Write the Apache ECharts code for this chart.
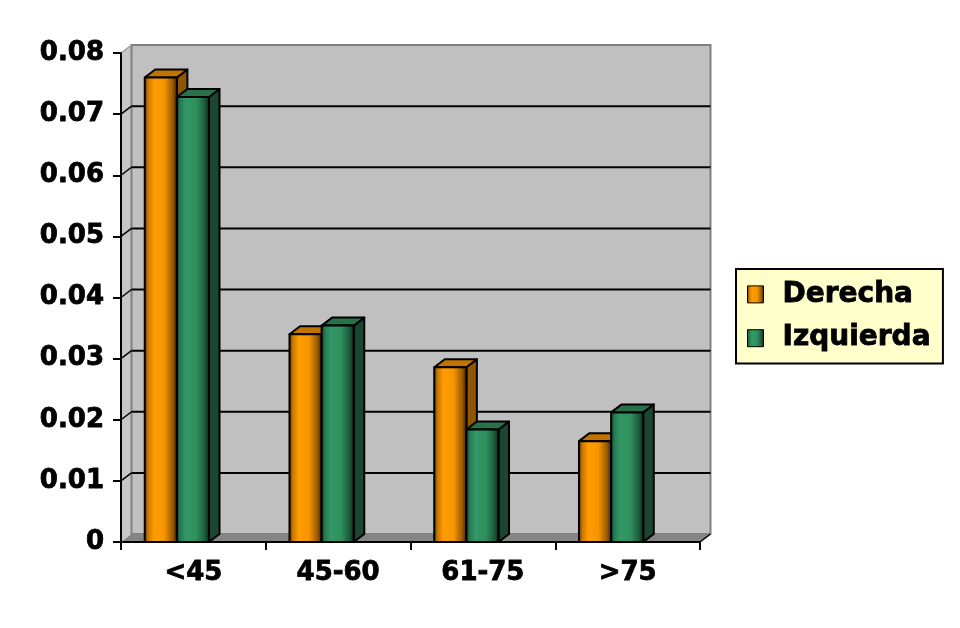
<!DOCTYPE html>
<html>
<head>
<meta charset="utf-8">
<script src="https://cdn.jsdelivr.net/npm/echarts@6/dist/echarts.min.js"></script>
<style>
  html, body { margin: 0; padding: 0; background: #ffffff; }
  #chart { width: 960px; height: 628px; }
</style>
</head>
<body>
<div id="chart"></div>
<script>
// ---- data ----
var categories = ['<45', '45-60', '61-75', '>75'];
var seriesNames = ['Derecha', 'Izquierda'];
var derecha = [0.076, 0.034, 0.0286, 0.0165];
var izquierda = [0.0728, 0.0354, 0.0184, 0.0212];
var yTicks = [0, 0.01, 0.02, 0.03, 0.04, 0.05, 0.06, 0.07, 0.08];
var yLabels = ['0', '0.01', '0.02', '0.03', '0.04', '0.05', '0.06', '0.07', '0.08'];

// ---- styling ----
var DX = 10.5, DY = -8;          // 3D depth offset
var BAR_FRAC = 0.222;            // bar front width as fraction of band
var SHIFT_FRAC = 0.114;          // pair center shift left of category center
var FONT = 'DejaVu Sans';

var G = echarts.graphic;
var pal = [
  {
    front: new G.LinearGradient(0, 0, 1, 0, [
      { offset: 0, color: '#3d2000' }, { offset: 0.12, color: '#c87500' },
      { offset: 0.3, color: '#ff9c00' }, { offset: 0.6, color: '#f59500' },
      { offset: 0.85, color: '#9a5a00' }, { offset: 1, color: '#301900' }]),
    top: '#c27300', side: '#8f5500'
  },
  {
    front: new G.LinearGradient(0, 0, 1, 0, [
      { offset: 0, color: '#0c2618' }, { offset: 0.12, color: '#267a50' },
      { offset: 0.3, color: '#339966' }, { offset: 0.6, color: '#2f8f5f' },
      { offset: 0.85, color: '#1b5a3b' }, { offset: 1, color: '#081a10' }]),
    top: '#2a7049', side: '#1b4631'
  }
];

function makeBarRender(si) {
  var p = pal[si];
  return function (params, api) {
    var i = api.value(0), v = api.value(1);
    var band = api.size([1, 0])[0];
    var base = api.coord([i, 0]);
    var top = api.coord([i, v]);
    var w = band * BAR_FRAC;
    var pc = base[0] - band * SHIFT_FRAC;
    var x0 = pc - w + si * w, x1 = x0 + w;
    var yb = base[1], yt = top[1];
    var st = { stroke: '#000', lineWidth: 2, lineJoin: 'round' };
    return {
      type: 'group',
      children: [
        { type: 'polygon', shape: { points: [[x1, yt], [x1 + DX, yt + DY], [x1 + DX, yb + DY], [x1, yb]] },
          style: Object.assign({ fill: p.side }, st) },
        { type: 'polygon', shape: { points: [[x0, yt], [x0 + DX, yt + DY], [x1 + DX, yt + DY], [x1, yt]] },
          style: Object.assign({ fill: p.top }, st) },
        { type: 'rect', shape: { x: x0, y: yt, width: w, height: yb - yt },
          style: Object.assign({ fill: p.front }, st) }
      ]
    };
  };
}

function frameRender(params, api) {
  var cs = params.coordSys;
  var x = cs.x, y = cs.y, w = cs.width, h = cs.height;
  var ch = [];
  ch.push({ type: 'polygon', shape: { points: [[x, y + h], [x, y], [x + DX, y + DY], [x + DX, y + h + DY]] },
    style: { fill: '#c6c6c6', stroke: null } });
  ch.push({ type: 'rect', shape: { x: x + DX, y: y + DY, width: w, height: h },
    style: { fill: '#c0c0c0', stroke: '#808080', lineWidth: 2 } });
  ch.push({ type: 'line', shape: { x1: x, y1: y, x2: x + DX, y2: y + DY },
    style: { stroke: '#a0a0a0', lineWidth: 1.5 } });
  for (var k = 1; k < yTicks.length - 1; k++) {
    var yy = api.coord([0, yTicks[k]])[1];
    ch.push({ type: 'line', shape: { x1: x + DX, y1: yy + DY, x2: x + DX + w, y2: yy + DY },
      style: { stroke: '#000', lineWidth: 2 } });
    ch.push({ type: 'line', shape: { x1: x, y1: yy, x2: x + DX, y2: yy + DY },
      style: { stroke: '#000', lineWidth: 1.5 } });
  }
  ch.push({ type: 'polygon', shape: { points: [[x, y + h], [x + w, y + h], [x + w + DX, y + h + DY], [x + DX, y + h + DY]] },
    style: { fill: '#858585', stroke: null } });
  ch.push({ type: 'line', shape: { x1: x + w, y1: y + h, x2: x + w + DX, y2: y + h + DY },
    style: { stroke: '#000', lineWidth: 1.5 } });
  return { type: 'group', children: ch };
}

var txt = { fontFamily: FONT, fontWeight: 'bold', color: '#000', textBorderColor: '#000', textBorderWidth: 0.8 };

var chart = echarts.init(document.getElementById('chart'), null, { renderer: 'canvas' });
var option = {
  backgroundColor: '#ffffff',
  animation: false,
  grid: { left: 121, right: 260, top: 53, bottom: 86, containLabel: false },
  legend: {
    orient: 'vertical',
    left: 736, top: 269,
    padding: [11, 12, 11, 11],
    itemGap: 15,
    itemWidth: 16, itemHeight: 17,
    icon: 'rect',
    backgroundColor: '#ffffcc',
    borderColor: '#000', borderWidth: 2,
    itemStyle: { borderColor: '#000', borderWidth: 1 },
    textStyle: Object.assign({ fontSize: 28, padding: [0, 0, 0, 14] }, txt),
    data: seriesNames
  },
  xAxis: {
    type: 'category',
    data: categories,
    z: 5,
    axisLine: { show: true, lineStyle: { color: '#000', width: 2 } },
    axisTick: { show: true, length: 8, lineStyle: { color: '#000', width: 2 } },
    axisLabel: Object.assign({ fontSize: 26, margin: 18 }, txt),
    splitLine: { show: false }
  },
  yAxis: {
    type: 'value',
    min: 0, max: 0.08, interval: 0.01,
    z: 5,
    axisLine: { show: true, lineStyle: { color: '#000', width: 2 } },
    axisTick: { show: true, length: 8, lineStyle: { color: '#000', width: 2 } },
    axisLabel: Object.assign({
      fontSize: 26, margin: 17,
      formatter: function (v) { return yLabels[Math.round(v / 0.01)]; }
    }, txt),
    splitLine: { show: false }
  },
  series: [
    { type: 'custom', name: '_frame', renderItem: frameRender, data: [[0, 0]], z: 0, clip: false, silent: true,
      legendHoverLink: false, tooltip: { show: false } },
    { type: 'custom', name: seriesNames[0], renderItem: makeBarRender(0), z: 3,
      itemStyle: { color: pal[0].front },
      encode: { x: 0, y: 1 },
      data: derecha.map(function (v, i) { return [i, v]; }) },
    { type: 'custom', name: seriesNames[1], renderItem: makeBarRender(1), z: 4,
      itemStyle: { color: pal[1].front },
      encode: { x: 0, y: 1 },
      data: izquierda.map(function (v, i) { return [i, v]; }) }
  ]
};
chart.setOption(option);
</script>
</body>
</html>
